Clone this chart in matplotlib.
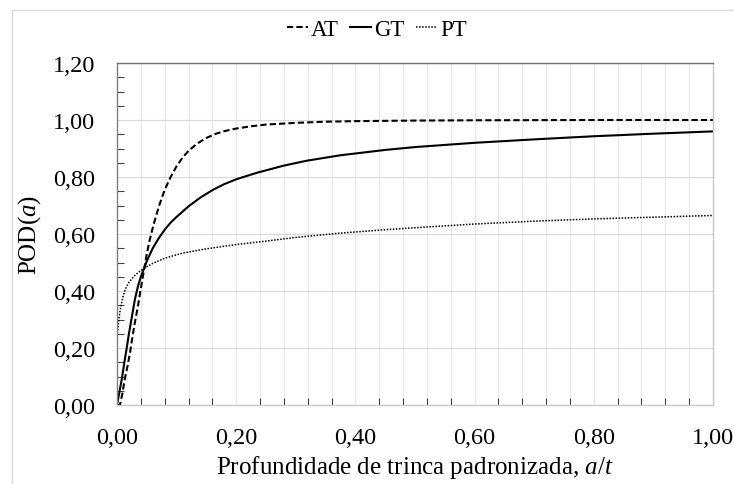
import matplotlib
matplotlib.use("Agg")
import matplotlib.pyplot as plt
from matplotlib.ticker import MultipleLocator, FuncFormatter
from matplotlib.patches import Rectangle

plt.rcParams['font.family'] = ['Liberation Serif', 'DejaVu Serif']
plt.rcParams['mathtext.fontset'] = 'custom'
plt.rcParams['mathtext.rm'] = 'Liberation Serif'
plt.rcParams['mathtext.it'] = 'Liberation Serif:italic'

# Data
at_x = [0.0, 0.005, 0.009, 0.013, 0.018, 0.022, 0.026, 0.030, 0.035, 0.039, 0.045, 0.050,
        0.055, 0.061, 0.070, 0.080, 0.090, 0.100, 0.110, 0.120, 0.135, 0.150, 0.165,
        0.180, 0.200, 0.225, 0.250, 0.300, 0.350, 0.400, 0.500, 0.600, 0.800, 1.000]
at_y = [0.0, 0.0, 0.04, 0.09, 0.14, 0.186, 0.24, 0.29, 0.345, 0.396, 0.47, 0.53,
        0.58, 0.63, 0.695, 0.755, 0.80, 0.838, 0.868, 0.892, 0.918, 0.937, 0.951,
        0.961, 0.970, 0.978, 0.984, 0.990, 0.994, 0.996, 0.998, 0.999, 1.0, 1.0]

gt_x = [0.0, 0.004, 0.008, 0.012, 0.016, 0.020, 0.025, 0.030, 0.035, 0.040, 0.050, 0.060,
        0.070, 0.080, 0.090, 0.100, 0.120, 0.140, 0.161, 0.180, 0.200, 0.235, 0.280,
        0.318, 0.374, 0.450, 0.500, 0.600, 0.700, 0.800, 0.900, 1.000]
gt_y = [0.0, 0.045, 0.09, 0.145, 0.196, 0.25, 0.31, 0.37, 0.415, 0.45, 0.505, 0.55,
        0.585, 0.615, 0.64, 0.66, 0.697, 0.728, 0.755, 0.775, 0.792, 0.815, 0.84,
        0.857, 0.876, 0.895, 0.905, 0.920, 0.932, 0.943, 0.952, 0.960]

pt_x = [0.0, 0.002, 0.004, 0.006, 0.008, 0.010, 0.013, 0.016, 0.020, 0.025, 0.030, 0.040,
        0.050, 0.060, 0.080, 0.110, 0.150, 0.200, 0.250, 0.300, 0.374, 0.450, 0.500,
        0.600, 0.700, 0.800, 0.900, 1.000]
pt_y = [0.24, 0.28, 0.315, 0.34, 0.36, 0.38, 0.40, 0.415, 0.43, 0.443, 0.455, 0.472,
        0.485, 0.497, 0.515, 0.533, 0.548, 0.563, 0.575, 0.588, 0.603, 0.615, 0.622,
        0.635, 0.645, 0.653, 0.659, 0.665]

series_labels = ['AT', 'GT', 'PT']

fig = plt.figure(figsize=(7.34, 4.85), dpi=100)
ax = fig.add_axes([117/734, 1-406/485, 596/734, 342/485])

ax.plot(at_x, at_y, color='black', lw=1.5, ls=(0, (3, 1.5)), label=series_labels[0])
ax.plot(gt_x, gt_y, color='black', lw=1.5, ls='-', label=series_labels[1])
ax.plot(pt_x, pt_y, color='black', lw=1.1, ls=(0, (1, 1)), label=series_labels[2])

ax.set_xlim(0, 1.0)
ax.set_ylim(0, 1.2)
ax.xaxis.set_major_locator(MultipleLocator(0.2))
ax.yaxis.set_major_locator(MultipleLocator(0.2))
ax.xaxis.set_minor_locator(MultipleLocator(0.04))
ax.yaxis.set_minor_locator(MultipleLocator(0.05))
fmt = FuncFormatter(lambda v, p: f"{v:.2f}".replace('.', ','))
ax.xaxis.set_major_formatter(fmt)
ax.yaxis.set_major_formatter(fmt)

ax.grid(axis='x', which='both', color='#e6e6e6', lw=0.8)
ax.grid(axis='y', which='major', color='#d9d9d9', lw=0.8)
ax.set_axisbelow(True)

ax.tick_params(axis='both', which='major', length=0, labelsize=17.5)
ax.tick_params(axis='y', which='major', pad=15.5)
ax.tick_params(axis='x', which='major', pad=16)
ax.tick_params(axis='both', which='minor', direction='in', length=5, color='#404040', width=0.8)

ax.spines['top'].set_color('#707070')
ax.spines['left'].set_color('#808080')
ax.spines['right'].set_color('#c8c8c8')
ax.spines['bottom'].set_color('#c8c8c8')
for s in ax.spines.values():
    s.set_linewidth(1.0)

ax.set_xlabel('Profundidade de trinca padronizada, $a/t$', fontsize=18, labelpad=3.5)
ax.set_ylabel('POD($a$)', fontsize=18, labelpad=7)

leg = fig.legend(loc='center', bbox_to_anchor=(377/734, 1-30/485), ncol=3, frameon=False,
                 fontsize=16.5, handlelength=0.9, handletextpad=0.15, columnspacing=0.5)

fig.patches.append(Rectangle((12/734, -0.1), 1.2, 1-11/485+0.1, transform=fig.transFigure,
                             fill=False, edgecolor='#d9d9d9', lw=1.0))

fig.savefig('out.png', dpi=100)
